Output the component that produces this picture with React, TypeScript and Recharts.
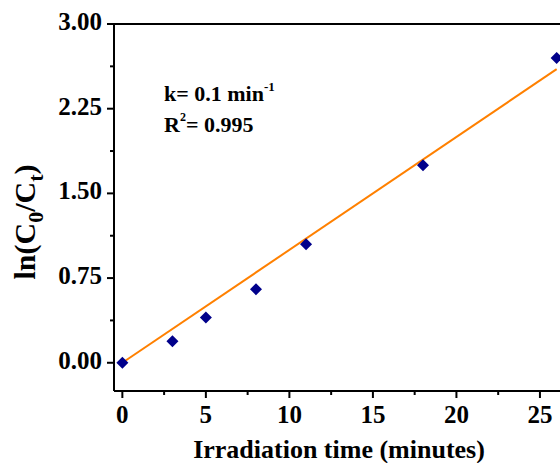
import { ComposedChart, Line, Scatter, XAxis, YAxis, ReferenceLine } from "recharts";

// measured points: irradiation time (min) vs ln(C0/Ct)
const times = [0, 3, 5, 8, 11, 18, 26];
const lnRatio = [0, 0.19, 0.4, 0.65, 1.05, 1.75, 2.7];

// linear fit endpoints as drawn
const fitTimes = [0, 26];
const fitValues = [0, 2.6];

const xTicks = [0, 2.5, 5, 7.5, 10, 12.5, 15, 17.5, 20, 22.5, 25];
const xMajor = [0, 5, 10, 15, 20, 25];
const yTicks = [0, 0.375, 0.75, 1.125, 1.5, 1.875, 2.25, 2.625, 3];
const yMajor = [0, 0.75, 1.5, 2.25, 3];

const FONT = '"Liberation Serif", "Times New Roman", serif';

const points = times.map((t, i) => ({ x: t, y: lnRatio[i] }));
const fit = fitTimes.map((t, i) => ({ x: t, y: fitValues[i] }));

function XTick(props: any) {
  const { x, y, payload } = props;
  const major = xMajor.includes(payload.value);
  return (
    <g>
      <line x1={x} x2={x} y1={y} y2={y + (major ? 7 : 4)} stroke="#000" strokeWidth={2} />
      {major && (
        <text x={x} y={y + 32} textAnchor="middle" fontFamily={FONT} fontWeight="bold" fontSize={25} fill="#000">
          {payload.value}
        </text>
      )}
    </g>
  );
}

function YTick(props: any) {
  const { x, y, payload } = props;
  const major = yMajor.includes(payload.value);
  return (
    <g>
      <line x1={x} x2={x - (major ? 7 : 4)} y1={y} y2={y} stroke="#000" strokeWidth={2} />
      {major && (
        <text x={x - 12} y={y + 6} textAnchor="end" fontFamily={FONT} fontWeight="bold" fontSize={25} fill="#000">
          {payload.value.toFixed(2)}
        </text>
      )}
    </g>
  );
}

function YTitle() {
  // rotated title with subscripts, centred at y=222, baseline at x=35
  return (
    <text
      x={-222}
      y={35}
      transform="rotate(-90)"
      textAnchor="middle"
      fontFamily={FONT}
      fontWeight="bold"
      fontSize={30}
      fill="#000"
    >
      ln(C
      <tspan dy={8} fontSize={22}>0</tspan>
      <tspan dy={-8}>/C</tspan>
      <tspan dy={8} fontSize={22}>t</tspan>
      <tspan dy={-8}>)</tspan>
    </text>
  );
}

function XTitle() {
  return (
    <text x={339} y={458} textAnchor="middle" fontFamily={FONT} fontWeight="bold" fontSize={26} fill="#000">
      Irradiation time (minutes)
    </text>
  );
}

function Diamond(props: any) {
  const { cx, cy } = props;
  return (
    <polygon
      points={`${cx},${cy - 6} ${cx + 6},${cy} ${cx},${cy + 6} ${cx - 6},${cy}`}
      fill="#00008B"
    />
  );
}

export default function App() {
  return (
    <div style={{ position: "absolute", left: 0, top: 0, width: 560, height: 463, overflow: "hidden", background: "#fff" }}>
      <ComposedChart width={580} height={463} margin={{ top: 24, right: 15, bottom: 0, left: 0 }}>
        <XAxis
          dataKey="x"
          type="number"
          domain={[-0.5, 26.5]}
          ticks={xTicks}
          allowDataOverflow
          axisLine={{ stroke: "#000", strokeWidth: 2 }}
          tickLine={false}
          tickSize={0}
          tickMargin={0}
          tick={<XTick />}
          height={72}
          interval={0}
          label={<XTitle />}
        />
        <YAxis
          type="number"
          domain={[-0.25, 3]}
          ticks={yTicks}
          allowDataOverflow
          axisLine={{ stroke: "#000", strokeWidth: 2 }}
          tickLine={false}
          tickSize={0}
          tickMargin={0}
          tick={<YTick />}
          width={114}
          interval={0}
          label={<YTitle />}
        />
        <ReferenceLine y={3} stroke="#000" strokeWidth={2} />
        <Line
          data={fit}
          dataKey="y"
          stroke="#FF8000"
          strokeWidth={2}
          dot={false}
          isAnimationActive={false}
        />
        <Scatter data={points} dataKey="y" shape={<Diamond />} isAnimationActive={false} />
      </ComposedChart>
      <div style={{ position: "absolute", left: 164, top: 83, fontFamily: FONT, fontWeight: "bold", fontSize: 22, lineHeight: "22px", whiteSpace: "nowrap" }}>
        k= 0.1 min<span style={{ fontSize: 13, position: "relative", top: -10 }}>-1</span>
      </div>
      <div style={{ position: "absolute", left: 164, top: 114, fontFamily: FONT, fontWeight: "bold", fontSize: 22, lineHeight: "22px", whiteSpace: "nowrap" }}>
        R<span style={{ fontSize: 12, position: "relative", top: -11 }}>2</span>= 0.995
      </div>
    </div>
  );
}
